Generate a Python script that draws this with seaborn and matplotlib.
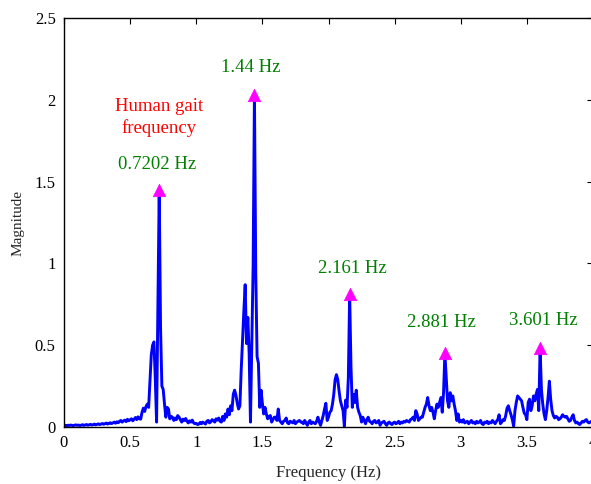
import numpy as np
import pandas as pd
import matplotlib
matplotlib.use("Agg")
import matplotlib.pyplot as plt
import seaborn as sns

# ---------------- data ----------------
freq_start, freq_stop, freq_step = 0.0, 4.0, 0.01

magnitude = [
    # 0.00 - 0.09
    0.012, 0.010, 0.008, 0.011, 0.009, 0.012, 0.010, 0.008, 0.011, 0.013,
    # 0.10 - 0.19
    0.010, 0.012, 0.009, 0.011, 0.014, 0.010, 0.012, 0.015, 0.011, 0.013,
    # 0.20 - 0.29
    0.016, 0.012, 0.014, 0.018, 0.013, 0.016, 0.019, 0.015, 0.018, 0.021,
    # 0.30 - 0.39
    0.017, 0.020, 0.024, 0.018, 0.022, 0.026, 0.021, 0.025, 0.030, 0.023,
    # 0.40 - 0.49
    0.032, 0.026, 0.035, 0.040, 0.030, 0.037, 0.042, 0.033, 0.047, 0.038,
    # 0.50 - 0.59
    0.044, 0.050, 0.038, 0.047, 0.058, 0.045, 0.062, 0.050, 0.048, 0.090,
    # 0.60 - 0.69
    0.115, 0.095, 0.125, 0.140, 0.120, 0.280, 0.440, 0.500, 0.520, 0.300,
    # 0.70 - 0.79
    0.030, 0.750, 1.450, 0.610, 0.250, 0.230, 0.140, 0.060, 0.120, 0.110,
    # 0.80 - 0.89
    0.050, 0.065, 0.060, 0.040, 0.055, 0.045, 0.070, 0.060, 0.045, 0.030,
    # 0.90 - 0.99
    0.048, 0.040, 0.052, 0.035, 0.025, 0.038, 0.030, 0.042, 0.025, 0.020,
    # 1.00 - 1.09
    0.022, 0.015, 0.018, 0.028, 0.020, 0.030, 0.024, 0.018, 0.035, 0.040,
    # 1.10 - 1.19
    0.025, 0.032, 0.045, 0.038, 0.030, 0.050, 0.042, 0.055, 0.035, 0.030,
    # 1.20 - 1.29
    0.065, 0.040, 0.080, 0.060, 0.110, 0.075, 0.130, 0.100, 0.200, 0.225,
    # 1.30 - 1.39
    0.195, 0.145, 0.110, 0.130, 0.350, 0.530, 0.710, 0.870, 0.510, 0.670,
    # 1.40 - 1.49
    0.450, 0.030, 0.490, 0.980, 2.030, 0.940, 0.430, 0.390, 0.120, 0.225,
    # 1.50 - 1.59
    0.145, 0.080, 0.120, 0.080, 0.050, 0.065, 0.070, 0.030, 0.045, 0.060,
    # 1.60 - 1.69
    0.060, 0.040, 0.110, 0.040, 0.030, 0.020, 0.035, 0.040, 0.055, 0.025,
    # 1.70 - 1.79
    0.020, 0.035, 0.030, 0.025, 0.040, 0.020, 0.030, 0.035, 0.040, 0.030,
    # 1.80 - 1.89
    0.030, 0.020, 0.040, 0.025, 0.010, 0.030, 0.040, 0.020, 0.030, 0.025,
    # 1.90 - 1.99
    0.020, 0.035, 0.060, 0.030, 0.010, 0.040, 0.070, 0.110, 0.145, 0.040,
    # 2.00 - 2.09
    0.060, 0.090, 0.100, 0.140, 0.200, 0.290, 0.320, 0.290, 0.220, 0.160,
    # 2.10 - 2.19
    0.130, 0.100, 0.005, 0.165, 0.120, 0.300, 0.810, 0.370, 0.120, 0.200,
    # 2.20 - 2.29
    0.150, 0.225, 0.120, 0.090, 0.070, 0.030, 0.060, 0.040, 0.020, 0.045,
    # 2.30 - 2.39
    0.060, 0.035, 0.030, 0.020, 0.035, 0.040, 0.025, 0.030, 0.040, 0.010,
    # 2.40 - 2.49
    0.025, 0.030, 0.035, 0.020, 0.010, 0.025, 0.030, 0.020, 0.015, 0.025,
    # 2.50 - 2.59
    0.030, 0.020, 0.025, 0.035, 0.020, 0.030, 0.025, 0.035, 0.030, 0.040,
    # 2.60 - 2.69
    0.035, 0.030, 0.045, 0.050, 0.060, 0.040, 0.100, 0.080, 0.040, 0.050,
    # 2.70 - 2.79
    0.060, 0.060, 0.090, 0.120, 0.140, 0.180, 0.130, 0.100, 0.120, 0.090,
    # 2.80 - 2.89
    0.050, 0.100, 0.140, 0.120, 0.150, 0.180, 0.090, 0.210, 0.450, 0.300,
    # 2.90 - 2.99
    0.160, 0.120, 0.210, 0.160, 0.190, 0.140, 0.100, 0.040, 0.080, 0.030,
    # 3.00 - 3.09
    0.040, 0.030, 0.045, 0.025, 0.030, 0.035, 0.020, 0.030, 0.040, 0.025,
    # 3.10 - 3.19
    0.030, 0.020, 0.035, 0.025, 0.030, 0.040, 0.020, 0.015, 0.030, 0.025,
    # 3.20 - 3.29
    0.035, 0.020, 0.030, 0.025, 0.040, 0.030, 0.020, 0.035, 0.045, 0.075,
    # 3.30 - 3.39
    0.020, 0.030, 0.045, 0.040, 0.070, 0.115, 0.130, 0.100, 0.075, 0.045,
    # 3.40 - 3.49
    0.005, 0.100, 0.150, 0.190, 0.180, 0.170, 0.160, 0.120, 0.085, 0.075,
    # 3.50 - 3.59
    0.045, 0.150, 0.170, 0.100, 0.130, 0.190, 0.160, 0.200, 0.230, 0.100,
    # 3.60 - 3.69
    0.480, 0.230, 0.140, 0.080, 0.045, 0.100, 0.180, 0.280, 0.170, 0.100,
    # 3.70 - 3.79
    0.070, 0.055, 0.065, 0.060, 0.045, 0.050, 0.060, 0.075, 0.065, 0.060,
    # 3.80 - 3.89
    0.065, 0.050, 0.035, 0.040, 0.060, 0.075, 0.040, 0.025, 0.030, 0.020,
    # 3.90 - 3.99
    0.015, 0.025, 0.035, 0.030, 0.040, 0.045, 0.030, 0.025, 0.030, 0.035,
    # 4.00
    0.030,
]

peak_freqs = [0.7202, 1.44, 2.161, 2.881, 3.601]
peak_mags = [1.45, 2.03, 0.81, 0.45, 0.48]
peak_labels = ["0.7202 Hz", "1.44 Hz", "2.161 Hz", "2.881 Hz", "3.601 Hz"]

annotation_text = "Human gait\nfrequency"

x_ticks = [0, 0.5, 1, 1.5, 2, 2.5, 3, 3.5, 4]
y_ticks = [0, 0.5, 1, 1.5, 2, 2.5]
x_tick_labels = ["0", "0.5", "1", "1.5", "2", "2.5", "3", "3.5", "4"]
y_tick_labels = ["0", "0.5", "1", "1.5", "2", "2.5"]
x_label = "Frequency (Hz)"
y_label = "Magnitude"

# ---------------- figure ----------------
sns.set_theme(style="white")
plt.rcParams["font.family"] = ["Liberation Serif", "DejaVu Serif"]

freq = np.linspace(freq_start, freq_stop, len(magnitude))
spec_df = pd.DataFrame({"freq": freq, "mag": magnitude})
peak_df = pd.DataFrame({"freq": peak_freqs, "mag": peak_mags})

fig = plt.figure(figsize=(5.91, 4.84), dpi=100)
ax = fig.add_axes([64 / 591, 57 / 484, 529 / 591, 409 / 484])

sns.lineplot(data=spec_df, x="freq", y="mag", ax=ax, color="#0000FF",
             linewidth=2.1, estimator=None, sort=False)
sns.scatterplot(data=peak_df, x="freq", y="mag", ax=ax, marker="^",
                color="#FF00FF", s=80, edgecolor="#FF00FF", linewidth=0.5,
                zorder=5)

label_offsets = [(-1.5, 18), (-2.5, 20), (1.5, 19), (-2.5, 22), (2.5, 20)]
for f, m, lab, (dx, dy) in zip(peak_freqs, peak_mags, peak_labels, label_offsets):
    ax.annotate(lab, xy=(f, m), xytext=(dx, dy), textcoords="offset points",
                ha="center", va="center", color="#008000", fontsize=13.5)

ax.annotate(annotation_text, xy=(peak_freqs[0], peak_mags[0]),
            xytext=(0, 52), textcoords="offset points", ha="center",
            va="center", color="#FF0000", fontsize=13.5, linespacing=1.3)

ax.set_xlim(0, 4)
ax.set_ylim(0, 2.5)
ax.set_xticks(x_ticks)
ax.set_xticklabels(x_tick_labels)
ax.set_yticks(y_ticks)
ax.set_yticklabels(y_tick_labels)
ax.set_xlabel(x_label, fontsize=12, labelpad=10)
ax.set_ylabel(y_label, fontsize=11, labelpad=7)

ax.tick_params(axis="both", which="both", direction="in", length=4,
               width=0.8, colors="black", labelsize=12, top=True, right=True,
               pad=6)
for s in ax.spines.values():
    s.set_visible(True)
    s.set_color("black")
    s.set_linewidth(1.0)

ax.set_facecolor("white")
fig.patch.set_facecolor("white")
fig.savefig("out.png", dpi=100, facecolor="white")
